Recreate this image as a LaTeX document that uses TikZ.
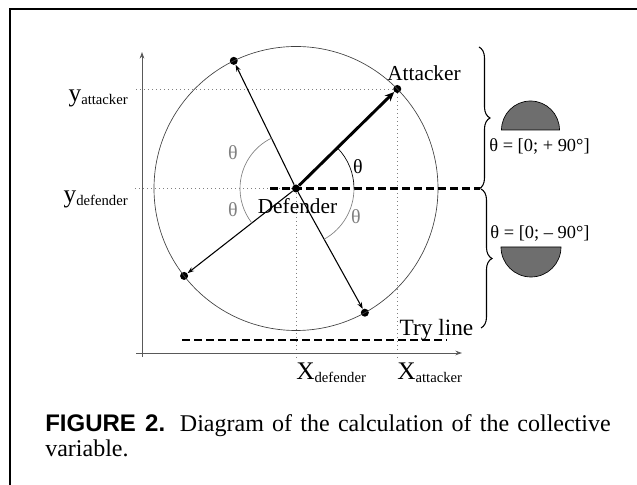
\documentclass[tikz,border=0pt]{standalone}
\usepackage{fontspec}
\setmainfont{Liberation Serif}
\newfontfamily\capsans{Liberation Sans}
\usetikzlibrary{arrows.meta,calc,decorations.pathreplacing}
\tikzset{
  >={Stealth[length=5pt,width=3.5pt]},
  d/.style={circle,fill,inner sep=0pt,minimum size=6pt},
  lb/.style={inner sep=0pt,font=\fontsize{16}{19}\selectfont},
  ax/.style={inner sep=0pt,font=\fontsize{19}{22}\selectfont},
  th/.style={inner sep=0pt,font=\fontsize{15}{18}\selectfont},
  rg/.style={inner sep=0pt,font=\fontsize{13.8}{16}\selectfont},
  dt/.style={black!50,line width=0.5pt,dash pattern=on 0.8pt off 2.2pt},
  dsh/.style={line width=1.6pt,dash pattern=on 6pt off 3pt},
  br/.style={decorate,decoration={brace,amplitude=8.25pt},line width=0.8pt},
  every picture/.style={line width=0.5pt},
}
\newcommand{\lowtxt}[1]{\raisebox{-0.25ex}{\fontsize{11}{13}\selectfont #1}}

\begin{document}
\begin{tikzpicture}[x=0.75pt,y=0.75pt]
\useasboundingbox (0,0) rectangle (637,485);
\draw[line width=2.2pt] (10,0)--(10,476)--(637,476);
\coordinate (o) at (142,132); \coordinate (yt) at (142,433); \coordinate (xt) at (462,132);
\node[d] (def) at (296,296.5){}; \node[d] (att) at ($(def)+(44.5:142)$){};
\node[d] (p1) at ($(def)+(116:142)$){}; \node[d] (p2) at ($(def)+(218:142)$){};
\node[d] (p3) at ($(def)+(-61:142)$){};
\draw[black!75] (def) circle[radius=142];
\draw[dt] (att)--([xshift=-5.25pt]att -| o); \draw[dt] (def)--([xshift=-5.25pt]def -| o);
\draw[dt] (def)--([yshift=-5.25pt]def |- o); \draw[dt] (att)--([yshift=-5.25pt]att |- o);
\draw[->,black!65,line width=0.7pt] (142,128)--(yt); \draw[->,black!65,line width=0.7pt] (136,132)--(xt);
\draw[dsh] (270,296.5)--(480,296.5); \draw[dsh] (182,145)--(447,145);
\draw[->,line width=0.8pt] (def)--(p1); \draw[->,line width=0.8pt] (def)--(p2); \draw[->,line width=0.8pt] (def)--(p3);
\draw[-{Stealth[length=7pt,width=6pt]},line width=2.2pt] (def)--(att);
\draw ($(def)+(0:58)$) arc[start angle=0,end angle=44.5,radius=58];
\draw[black!50] ($(def)+(0:58)$) arc[start angle=0,end angle=-61,radius=58];
\draw[black!50] ($(def)+(116:56)$) arc[start angle=116,end angle=218,radius=56];
\node[th] (t1) at (358,318){θ}; \node[th,black!50] (t2) at (356,268){θ};
\node[th,black!50] (t3) at (233,332){θ}; \node[th,black!50] (t4) at (233,275){θ};
\node[ax,anchor=base east] (ya) at (128,383.5){y\lowtxt{attacker}};
\node[ax,anchor=base east] (yd) at (128,282.5){y\lowtxt{defender}};
\node[ax,anchor=base west] (xd) at (296,105.5){X\lowtxt{defender}};
\node[ax,anchor=base west] (xa) at (397,105.5){X\lowtxt{attacker}};
\node[lb,anchor=base] (dn) at (297.5,271){Defender}; \node[lb,anchor=base] (an) at (424,404){Attacker};
\node[lb,anchor=base,font=\fontsize{17.5}{20}\selectfont] (try) at (436.5,149){Try line};
\draw[br] (479,438)--(479,296); \draw[br] (481,296)--(481,157);
\draw[fill=black!57] (501.5,355) arc[start angle=180,end angle=0,radius=29]--cycle;
\draw[fill=black!57] (501,238) arc[start angle=180,end angle=360,radius=30]--cycle;
\node[rg,anchor=base] (rp) at (539.5,333){θ = [0; + 90°]}; \node[rg,anchor=base] (rm) at (540,246){θ = [0; – 90°]};
\node[anchor=north west,inner sep=0pt,text width=424pt,align=justify,font=\fontsize{18}{18.75}\selectfont] (cap) at (45,71)
  {\hyphenpenalty=10000{\capsans\bfseries FIGURE 2.} Diagram of the calculation of the collective variable.};
\end{tikzpicture}
\end{document}
